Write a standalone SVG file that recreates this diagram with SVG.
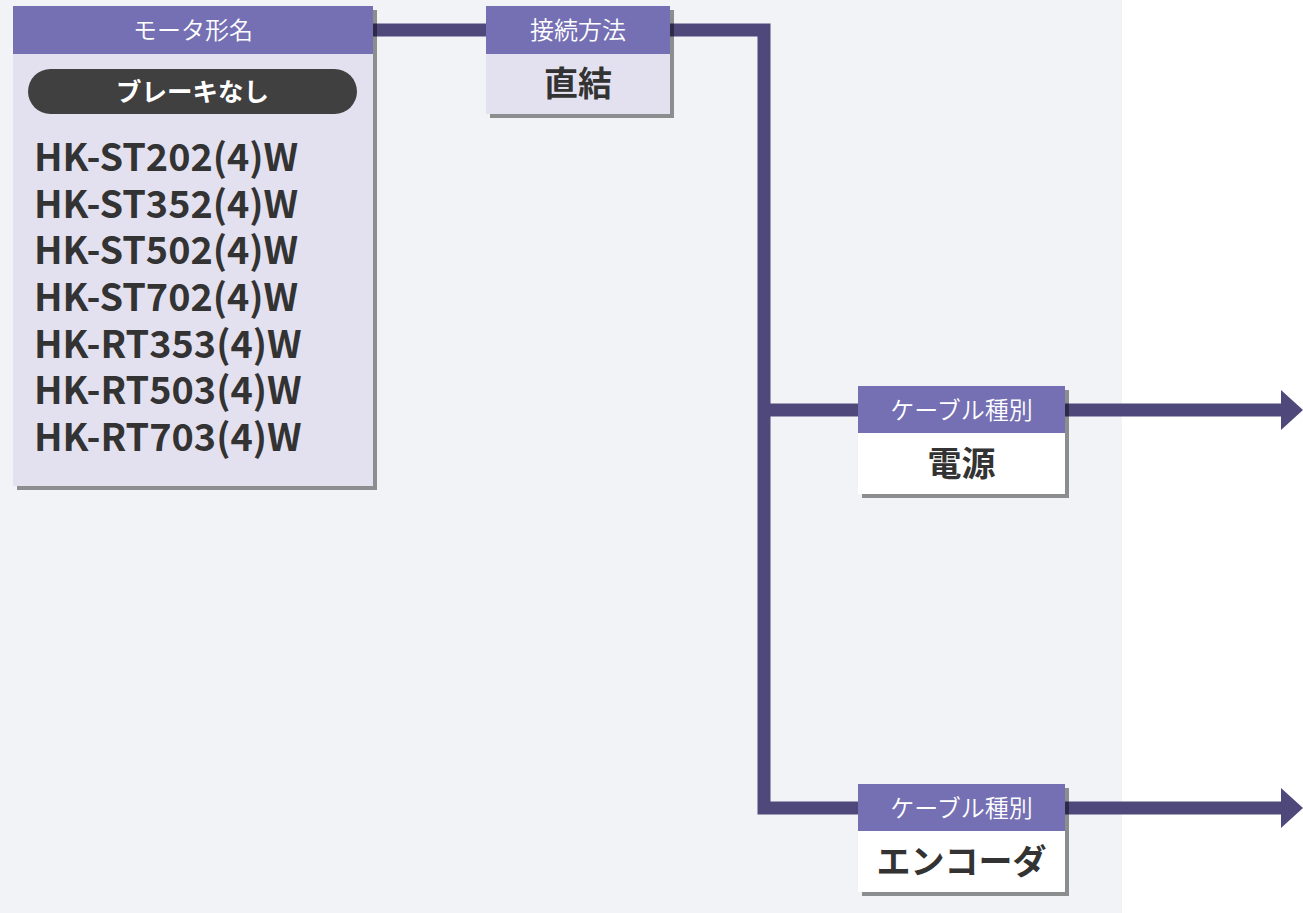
<svg xmlns="http://www.w3.org/2000/svg" width="1303" height="913" viewBox="0 0 1303 913">
  <style>
    .hdr { fill: #7570b3; }
    .body { fill: #e3e1f0; }
    .bodyw { fill: #ffffff; }
    .shadow { fill: #000000; fill-opacity: 0.42; }
    .htxt { font-family: "Noto Sans CJK JP", "Noto Sans", sans-serif; font-size: 24px; font-weight: 350; fill: #ffffff; text-anchor: middle; }
    .btxt { font-family: "Noto Sans CJK JP", "Noto Sans", sans-serif; font-size: 34px; font-weight: bold; fill: #333333; text-anchor: middle; }
    .model { font-family: "Noto Sans CJK JP", "Noto Sans", sans-serif; font-size: 37.8px; font-weight: bold; fill: #333333; }
    .pilltxt { font-family: "Noto Sans CJK JP", "Noto Sans", sans-serif; font-size: 25.5px; font-weight: bold; fill: #ffffff; text-anchor: middle; }
    .conn { fill: none; stroke: #4f487a; stroke-width: 13; stroke-linejoin: miter; }
    .head { fill: #4f487a; }
  </style>
  <rect x="0" y="0" width="1303" height="913" fill="#ffffff"/>
  <rect x="0" y="0" width="1122" height="913" fill="#f2f3f6"/>

  <g id="connectors">
    <path class="conn" d="M373,30 H764 V808 H858"/>
    <path class="conn" d="M764,410 H858"/>
    <path class="conn" d="M1065,410 H1283"/>
    <polygon class="head" points="1281,390 1303,410 1281,430"/>
    <path class="conn" d="M1065,808 H1283"/>
    <polygon class="head" points="1281,788 1303,808 1281,828"/>
  </g>

  <g id="node-motor">
    <rect class="shadow" x="17" y="10" width="360" height="480"/>
    <rect class="body" x="13" y="6" width="360" height="480"/>
    <rect class="hdr" x="13" y="6" width="360" height="48"/>
    <text class="htxt" x="193" y="39">モータ形名</text>
    <rect x="28" y="69" width="329" height="45" rx="22.5" ry="22.5" fill="#404040"/>
    <text class="pilltxt" x="192.5" y="100.5">ブレーキなし</text>
    <text class="model" x="34" y="171"><tspan x="34" y="171">HK-ST202(4)W</tspan><tspan x="34" y="217.7">HK-ST352(4)W</tspan><tspan x="34" y="264.3">HK-ST502(4)W</tspan><tspan x="34" y="311">HK-ST702(4)W</tspan><tspan x="34" y="357.7">HK-RT353(4)W</tspan><tspan x="34" y="404.3">HK-RT503(4)W</tspan><tspan x="34" y="451">HK-RT703(4)W</tspan></text>
  </g>

  <g id="node-connection">
    <rect class="shadow" x="490" y="10" width="184" height="108"/>
    <rect class="body" x="486" y="6" width="184" height="108"/>
    <rect class="hdr" x="486" y="6" width="184" height="48"/>
    <text class="htxt" x="578" y="39">接続方法</text>
    <text class="btxt" x="578" y="96">直結</text>
  </g>

  <g id="node-cable-power">
    <rect class="shadow" x="862" y="390" width="207" height="108"/>
    <rect class="bodyw" x="858" y="386" width="207" height="108"/>
    <rect class="hdr" x="858" y="386" width="207" height="47"/>
    <text class="htxt" x="961.5" y="418.5">ケーブル種別</text>
    <text class="btxt" x="961.5" y="476">電源</text>
  </g>

  <g id="node-cable-encoder">
    <rect class="shadow" x="862" y="788" width="207" height="108"/>
    <rect class="bodyw" x="858" y="784" width="207" height="108"/>
    <rect class="hdr" x="858" y="784" width="207" height="47"/>
    <text class="htxt" x="961.5" y="816.5">ケーブル種別</text>
    <text class="btxt" x="961.5" y="874">エンコーダ</text>
  </g>
</svg>
